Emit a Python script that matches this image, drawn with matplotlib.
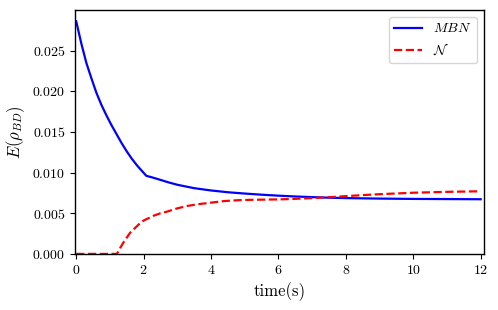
import matplotlib
matplotlib.use("Agg")
import matplotlib.pyplot as plt

plt.rcParams['font.family'] = ['cmr10', 'DejaVu Serif']
plt.rcParams['mathtext.fontset'] = 'cm'
plt.rcParams['axes.formatter.use_mathtext'] = True

# values
t_mbn = [0.0, 0.15, 0.3, 0.45, 0.6, 0.75, 0.9, 1.05, 1.2, 1.35, 1.5, 1.65,
         1.8, 1.95, 2.08, 2.3, 2.5, 2.75, 3.0, 3.5, 4.0, 4.5, 5.0, 5.5, 6.0,
         6.5, 7.0, 7.5, 8.0, 9.0, 10.0, 11.0, 12.0]
e_mbn = [0.0286, 0.0259, 0.0235, 0.0216, 0.0198, 0.0183, 0.0170, 0.0158,
         0.0147, 0.0136, 0.0126, 0.0117, 0.0109, 0.0102, 0.0096, 0.00935,
         0.0091, 0.00878, 0.0085, 0.00808, 0.0078, 0.00758, 0.00742, 0.00728,
         0.00716, 0.00706, 0.00698, 0.00691, 0.00686, 0.0068, 0.00676,
         0.00674, 0.00672]

t_neg = [0.0, 0.6, 1.21, 1.3, 1.4, 1.5, 1.6, 1.7, 1.8, 1.9, 2.0, 2.1, 2.3,
         2.5, 2.7, 3.0, 3.3, 3.6, 4.0, 4.4, 4.8, 5.2, 6.0, 6.5, 7.0, 7.5,
         8.0, 8.5, 9.0, 10.0, 11.0, 12.0]
e_neg = [0.0, 0.0, 0.0, 0.0007, 0.0014, 0.0020, 0.0026, 0.0030, 0.0034,
         0.0038, 0.0041, 0.0043, 0.0047, 0.0050, 0.0052, 0.0056, 0.0059,
         0.0061, 0.0063, 0.0065, 0.0066, 0.00665, 0.0067, 0.00677, 0.00686,
         0.00697, 0.0071, 0.00723, 0.00734, 0.00752, 0.00763, 0.0077]

fig = plt.figure(figsize=(4.98, 3.10), dpi=100)
ax = fig.add_axes([0.151, 0.181, 0.821, 0.787])

ax.plot(t_mbn, e_mbn, color='blue', linewidth=1.6, label='$MBN$')
ax.plot(t_neg, e_neg, color='red', linestyle='--', linewidth=1.6, label=r'$\mathcal{N}$')

ax.set_xlim(-0.03, 12.1)
ax.set_ylim(0, 0.030)
ax.set_xticks([0, 2, 4, 6, 8, 10, 12])
ax.set_yticks([0.000, 0.005, 0.010, 0.015, 0.020, 0.025])
ax.tick_params(labelsize=10)
for s in ax.spines.values():
    s.set_linewidth(1.0)

ax.set_xlabel('time(s)', fontsize=12)
ax.set_ylabel(r'$E(\rho_{BD})$', fontsize=12)
ax.legend(loc='upper right', fontsize=10)

fig.savefig('out.png', dpi=100)
